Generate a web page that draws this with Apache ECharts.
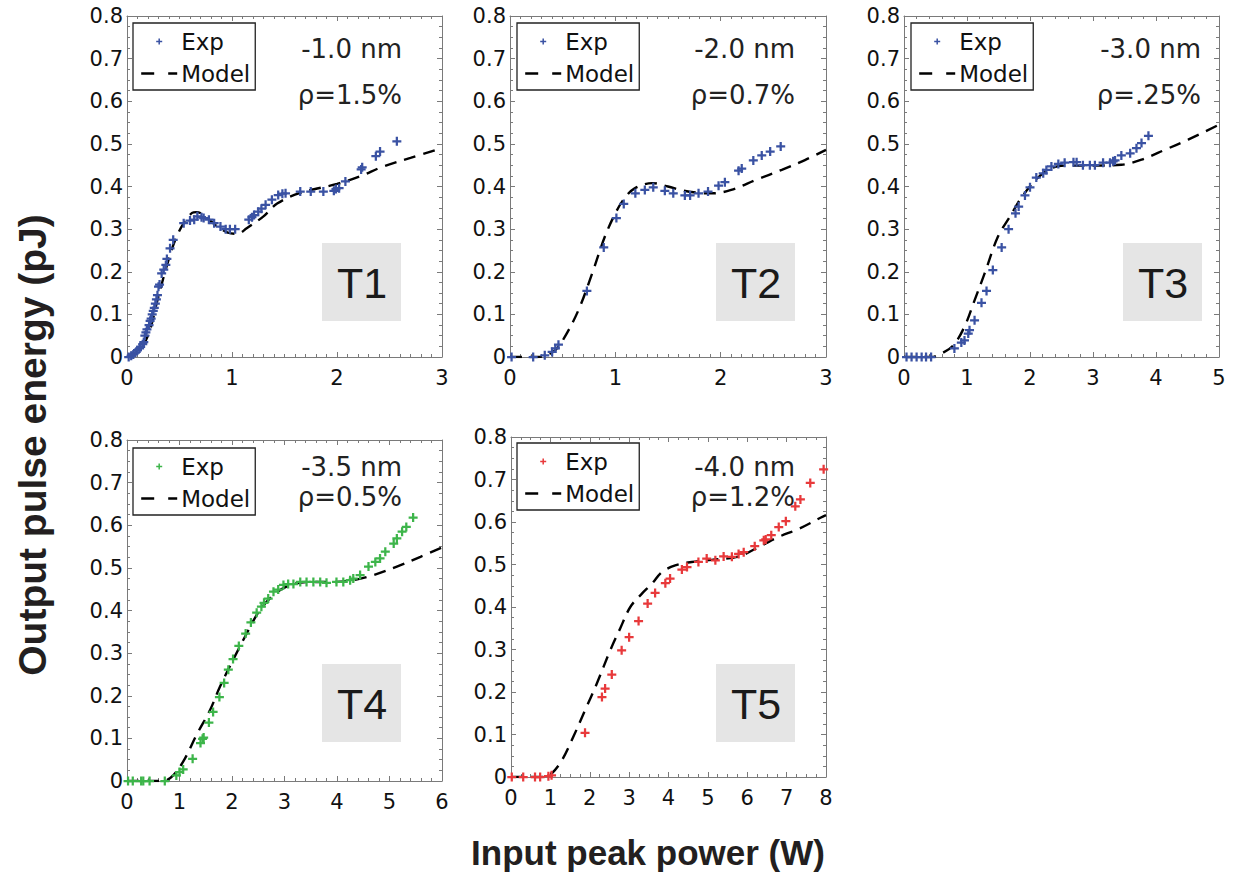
<!DOCTYPE html>
<html>
<head>
<meta charset="utf-8">
<script src="https://cdn.jsdelivr.net/npm/echarts@6/dist/echarts.min.js"></script>
<style>html,body{margin:0;padding:0;background:#fff;}#c{width:1238px;height:875px;}</style>
</head>
<body>
<div id="c"></div>
<script>
// ---------- data ----------
const yTickLabels = ['0', '0.1', '0.2', '0.3', '0.4', '0.5', '0.6', '0.7', '0.8'];
const xMaxes = [3, 3, 5, 6, 8];
const panelNames = ['T1', 'T2', 'T3', 'T4', 'T5'];
const detuning = ['-1.0 nm', '-2.0 nm', '-3.0 nm', '-3.5 nm', '-4.0 nm'];
const rhoText = ['ρ=1.5%', 'ρ=0.7%', 'ρ=.25%', 'ρ=0.5%', 'ρ=1.2%'];
const xTitle = 'Input peak power (W)';
const yTitle = 'Output pulse energy (pJ)';

const t1Exp = [[0.016,0],[0.04,0.003],[0.06,0.006],[0.08,0.01],[0.10,0.016],[0.12,0.02],[0.13,0.024],[0.15,0.03],[0.16,0.035],[0.17,0.05],[0.18,0.058],[0.19,0.065],[0.21,0.075],[0.22,0.085],[0.23,0.09],[0.24,0.1],[0.25,0.108],[0.26,0.115],[0.27,0.125],[0.28,0.135],[0.29,0.145],[0.30,0.165],[0.31,0.17],[0.33,0.196],[0.35,0.205],[0.37,0.216],[0.38,0.23],[0.41,0.255],[0.44,0.275],[0.54,0.314],[0.60,0.32],[0.64,0.322],[0.67,0.33],[0.71,0.328],[0.73,0.326],[0.78,0.322],[0.83,0.314],[0.89,0.306],[0.94,0.30],[0.98,0.30],[1.03,0.30],[1.16,0.322],[1.19,0.328],[1.21,0.333],[1.25,0.341],[1.28,0.348],[1.32,0.357],[1.38,0.369],[1.44,0.38],[1.48,0.383],[1.51,0.384],[1.65,0.388],[1.75,0.388],[1.87,0.388],[1.97,0.39],[1.99,0.394],[2.02,0.396],[2.08,0.412],[2.23,0.44],[2.24,0.445],[2.37,0.471],[2.41,0.482],[2.57,0.506]];
const t1Model = [[0,0],[0.1,0.012],[0.2,0.05],[0.29,0.133],[0.38,0.215],[0.46,0.275],[0.54,0.314],[0.62,0.338],[0.66,0.34],[0.72,0.335],[0.86,0.306],[0.96,0.292],[1.05,0.289],[1.14,0.302],[1.3,0.33],[1.43,0.36],[1.65,0.385],[2.0,0.406],[2.22,0.424],[2.44,0.447],[2.7,0.467],[3.0,0.49]];

const t2Exp = [[0.015,0],[0.22,0],[0.33,0.004],[0.40,0.012],[0.43,0.02],[0.46,0.029],[0.73,0.155],[0.89,0.257],[1.01,0.326],[1.08,0.359],[1.19,0.384],[1.28,0.392],[1.36,0.398],[1.47,0.39],[1.55,0.384],[1.66,0.379],[1.71,0.379],[1.79,0.384],[1.88,0.388],[1.98,0.402],[2.04,0.41],[2.17,0.437],[2.20,0.442],[2.31,0.461],[2.39,0.473],[2.47,0.482],[2.57,0.494]];
const t2Model = [[0,0],[0.27,0],[0.35,0.005],[0.43,0.016],[0.52,0.047],[0.65,0.11],[0.78,0.196],[0.9,0.282],[1.0,0.337],[1.08,0.37],[1.18,0.395],[1.35,0.408],[1.5,0.4],[1.65,0.39],[1.8,0.385],[1.92,0.384],[2.1,0.392],[2.34,0.416],[2.58,0.439],[2.8,0.462],[3.0,0.486]];

const t3Exp = [[0.04,0],[0.12,0],[0.2,0],[0.28,0],[0.35,0],[0.43,0],[0.8,0.02],[0.91,0.034],[0.96,0.039],[1.02,0.055],[1.04,0.063],[1.12,0.086],[1.23,0.127],[1.31,0.155],[1.41,0.204],[1.55,0.257],[1.66,0.3],[1.77,0.337],[1.82,0.353],[1.92,0.379],[2.0,0.398],[2.1,0.421],[2.21,0.431],[2.26,0.439],[2.34,0.447],[2.45,0.453],[2.55,0.456],[2.69,0.457],[2.74,0.457],[2.84,0.45],[2.95,0.45],[3.03,0.45],[3.16,0.456],[3.27,0.456],[3.32,0.459],[3.35,0.461],[3.45,0.473],[3.59,0.478],[3.69,0.49],[3.77,0.502],[3.88,0.519]];
const t3Model = [[0,0],[0.43,0],[0.59,0.008],[0.78,0.027],[0.96,0.071],[1.12,0.133],[1.28,0.196],[1.49,0.282],[1.68,0.329],[1.86,0.373],[2.1,0.417],[2.34,0.443],[2.6,0.449],[3.03,0.449],[3.45,0.451],[3.77,0.463],[4.14,0.486],[4.51,0.51],[5.0,0.545]];

const t4Exp = [[0.02,0],[0.11,0],[0.27,0],[0.31,0],[0.43,0],[0.72,0],[0.94,0.013],[1.0,0.021],[1.07,0.027],[1.25,0.052],[1.4,0.089],[1.44,0.099],[1.46,0.102],[1.56,0.137],[1.64,0.162],[1.76,0.197],[1.85,0.23],[1.93,0.261],[2.02,0.286],[2.13,0.317],[2.26,0.346],[2.36,0.372],[2.47,0.395],[2.56,0.409],[2.61,0.418],[2.69,0.428],[2.79,0.444],[2.88,0.449],[2.98,0.46],[3.07,0.462],[3.17,0.462],[3.3,0.467],[3.42,0.467],[3.55,0.467],[3.68,0.467],[3.8,0.465],[3.99,0.467],[4.12,0.467],[4.25,0.471],[4.31,0.475],[4.44,0.483],[4.6,0.503],[4.73,0.514],[4.82,0.522],[4.92,0.538],[5.08,0.557],[5.14,0.569],[5.24,0.585],[5.32,0.596],[5.45,0.618]];
const t4Model = [[0,0],[0.69,0],[0.88,0.013],[1.1,0.052],[1.32,0.107],[1.58,0.166],[1.77,0.221],[2.02,0.284],[2.28,0.346],[2.53,0.401],[2.79,0.436],[3.04,0.456],[3.42,0.467],[3.93,0.467],[4.31,0.471],[4.69,0.483],[5.14,0.503],[5.59,0.526],[6.0,0.548]];

const t5Exp = [[0.02,0],[0.31,0],[0.61,0],[0.74,0],[0.95,0.002],[1.03,0.004],[1.88,0.104],[2.31,0.188],[2.39,0.208],[2.56,0.241],[2.81,0.298],[3.0,0.329],[3.24,0.367],[3.47,0.408],[3.66,0.433],[3.92,0.456],[4.04,0.467],[4.34,0.488],[4.47,0.494],[4.76,0.506],[4.97,0.514],[5.19,0.51],[5.4,0.519],[5.61,0.518],[5.78,0.525],[5.91,0.529],[6.19,0.543],[6.42,0.557],[6.47,0.559],[6.61,0.569],[6.8,0.588],[6.98,0.602],[7.22,0.637],[7.35,0.653],[7.6,0.692],[7.94,0.724]];
const t5Model = [[0,0],[0.86,0],[1.03,0.008],[1.29,0.039],[1.58,0.094],[1.88,0.157],[2.18,0.22],[2.52,0.298],[2.77,0.349],[3.03,0.4],[3.32,0.431],[3.58,0.455],[3.83,0.482],[4.17,0.498],[4.59,0.506],[5.1,0.511],[5.78,0.519],[6.37,0.545],[6.8,0.565],[7.31,0.584],[7.86,0.61],[8.0,0.616]];

const expSets = [t1Exp, t2Exp, t3Exp, t4Exp, t5Exp];
const modelSets = [t1Model, t2Model, t3Model, t4Model, t5Model];
const expColors = ['#3a52a3', '#3a52a3', '#3a52a3', '#3db54a', '#e8393b'];

// ---------- layout ----------
const layout = [
  { grid: {left:127, top:16, width:315, height:341}, minor:10, legend:{left:133, top:23}, annX:402, annY:[49, 95], box:[322, 243] },
  { grid: {left:510, top:16, width:316, height:341}, minor:10, legend:{left:517, top:23}, annX:795, annY:[49, 95], box:[716, 243] },
  { grid: {left:904, top:16, width:315, height:341}, minor:5, legend:{left:911, top:23}, annX:1201, annY:[49, 95], box:[1123, 243] },
  { grid: {left:127, top:440, width:315, height:341}, minor:5, legend:{left:133, top:448}, annX:402, annY:[467, 497], box:[322, 664] },
  { grid: {left:511, top:437, width:315, height:340}, minor:4, legend:{left:517, top:443}, annX:795, annY:[467, 497], box:[716, 664] }
];

const FONT = 'DejaVu Sans';
const FRAME = '#7a7a7a';
const plusPath = 'path://M3,0H5V3H8V5H5V8H3V5H0V3H3Z';

const grids = [], xAxes = [], yAxes = [], series = [], legends = [], graphics = [];

layout.forEach(function (L, i) {
  grids.push(Object.assign({ containLabel: false }, L.grid));
  const common = {
    gridIndex: i, type: 'value', min: 0,
    axisLine: { show: true, onZero: false, lineStyle: { color: FRAME, width: 1 } },
    axisTick: { show: true, inside: true, length: 5, lineStyle: { color: FRAME, width: 1 } },
    splitLine: { show: false }
  };
  const lab = { fontSize: 21, fontFamily: FONT, color: '#111' };
  xAxes.push(Object.assign({}, common, { max: xMaxes[i], interval: 1, position: 'bottom',
    minorTick: { show: true, splitNumber: L.minor, length: 3, lineStyle: { color: FRAME } },
    axisLabel: Object.assign({ margin: 10 }, lab) }));
  xAxes.push(Object.assign({}, common, { max: xMaxes[i], interval: 1, position: 'top',
    minorTick: { show: true, splitNumber: L.minor, length: 3, lineStyle: { color: FRAME } },
    axisLabel: { show: false } }));
  yAxes.push(Object.assign({}, common, { max: 0.8, interval: 0.1, position: 'left',
    minorTick: { show: true, splitNumber: 4, length: 3, lineStyle: { color: FRAME } },
    axisLabel: Object.assign({ margin: 4, formatter: function (v) { return yTickLabels[Math.round(v * 10)]; } }, lab) }));
  yAxes.push(Object.assign({}, common, { max: 0.8, interval: 0.1, position: 'right',
    minorTick: { show: true, splitNumber: 4, length: 3, lineStyle: { color: FRAME } },
    axisLabel: { show: false } }));

  const expName = 'Exp ' + panelNames[i];
  const modelName = 'Model ' + panelNames[i];
  series.push({
    name: modelName, type: 'line', xAxisIndex: 2 * i, yAxisIndex: 2 * i,
    data: modelSets[i], smooth: 0.35, symbol: 'none', showSymbol: false,
    lineStyle: { color: '#000', width: 2.4, type: [12, 8] }, itemStyle: { color: 'rgba(0,0,0,0)' },
    z: 2, silent: true, animation: false
  });
  series.push({
    name: expName, type: 'scatter', xAxisIndex: 2 * i, yAxisIndex: 2 * i,
    data: expSets[i], symbol: plusPath, symbolSize: 9,
    itemStyle: { color: expColors[i], opacity: 1 }, z: 3, silent: true, animation: false
  });
  legends.push({
    orient: 'vertical', left: L.legend.left, top: L.legend.top,
    data: [{ name: expName, icon: plusPath }, { name: modelName, itemStyle: { opacity: 0, color: 'rgba(0,0,0,0)' } }],
    formatter: function (n) { return n.split(' ')[0]; },
    selectedMode: false,
    itemWidth: 36, itemHeight: 6, itemGap: 9,
    padding: [7, 5, 5, 7],
    borderColor: '#222', borderWidth: 1.3, backgroundColor: '#fff',
    lineStyle: { type: [13, 14], width: 2.4, color: '#000' },
    textStyle: { fontSize: 23, fontFamily: FONT, color: '#111', padding: [0, 0, 0, -1] }
  });

  graphics.push({ type: 'text', x: L.annX, y: L.annY[0], z: 1,
    style: { text: detuning[i], fontSize: 26, fontFamily: FONT, fill: '#222', textAlign: 'right', textVerticalAlign: 'middle' } });
  graphics.push({ type: 'text', x: L.annX, y: L.annY[1], z: 1,
    style: { text: rhoText[i], fontSize: 26, fontFamily: FONT, fill: '#222', textAlign: 'right', textVerticalAlign: 'middle' } });
  graphics.push({ type: 'rect', z: 0, shape: { x: L.box[0], y: L.box[1], width: 79, height: 78 }, style: { fill: '#e5e5e5' } });
  graphics.push({ type: 'text', x: L.box[0] + 40, y: L.box[1] + 40, z: 1,
    style: { text: panelNames[i], fontSize: 43, fontFamily: 'Liberation Sans', fill: '#1a1a1a', textAlign: 'center', textVerticalAlign: 'middle' } });
});

graphics.push({ type: 'text', x: 648, y: 852,
  style: { text: xTitle, fontSize: 35, fontWeight: 'bold', fontFamily: 'Liberation Sans', fill: '#231f20', textAlign: 'center', textVerticalAlign: 'middle' } });
graphics.push({ type: 'text', x: 32, y: 445, rotation: Math.PI / 2,
  style: { text: yTitle, fontSize: 39, fontWeight: 'bold', fontFamily: 'Liberation Sans', fill: '#231f20', textAlign: 'center', textVerticalAlign: 'middle' } });

const chart = echarts.init(document.getElementById('c'), null, { renderer: 'svg' });
chart.setOption({
  animation: false,
  backgroundColor: '#fff',
  grid: grids, xAxis: xAxes, yAxis: yAxes, series: series, legend: legends,
  graphic: { elements: graphics }
});
</script>
</body>
</html>
